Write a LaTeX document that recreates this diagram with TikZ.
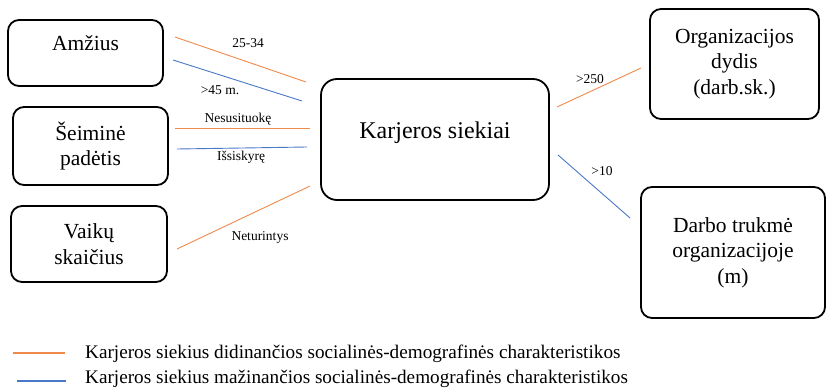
\documentclass[tikz,border=0pt]{standalone}
\usepackage{fontspec}
\setmainfont{Liberation Serif}
\usetikzlibrary{calc}
\definecolor{incr}{HTML}{F08A4B}
\definecolor{decr}{HTML}{4A78C8}
\tikzset{
  factor/.style={draw=black, line width=1.8pt, rounded corners=11pt, align=center,
    inner sep=0pt, font=\fontsize{21.5}{25.5}\selectfont},
  hub/.style={factor, rounded corners=16pt, font=\fontsize{24}{28}\selectfont},
  uplink/.style={draw=incr, line width=0.9pt},
  downlink/.style={draw=decr, line width=0.9pt},
  tag/.style={font=\fontsize{13.5}{15}\selectfont, inner sep=0pt},
  legendtext/.style={font=\fontsize{19.2}{22}\selectfont, anchor=west, inner sep=0pt}
}
\begin{document}
\begin{tikzpicture}[x=1pt, y=-1pt]
  \useasboundingbox (0,0) rectangle (827,388);

  % factor boxes
  \node[factor, minimum width=155pt, minimum height=66pt, text depth=19pt] (amz) at (85.5,53) {Amžius};
  \node[factor, minimum width=155pt, minimum height=78pt] (seim) at (90.5,146) {Šeiminė\\padėtis};
  \node[factor, minimum width=156pt, minimum height=76pt] (vaik) at (89,244) {Vaikų\\skaičius};
  \node[hub, minimum width=228pt, minimum height=121pt, text depth=18pt] (ks) at (435,139.5) {Karjeros siekiai};
  \node[factor, minimum width=169pt, minimum height=110pt] (org) at (734.5,64) {Organizacijos\\dydis\\(darb.sk.)};
  \node[factor, minimum width=184pt, minimum height=131pt] (darb) at (733,252.5) {Darbo trukmė\\organizacijoje\\(m)};

  % connector ends
  \coordinate (amzA) at (175,37);  \coordinate (ksA) at (306,82);
  \coordinate (amzB) at (173,60);  \coordinate (ksB) at (302,101);
  \coordinate (seimA) at (175,128); \coordinate (ksC) at (310,128);
  \coordinate (seimB) at (177,149); \coordinate (ksD) at (307,147);
  \coordinate (vaikA) at (177,249); \coordinate (ksE) at (310,186);
  \coordinate (ksF) at (557,107);  \coordinate (orgA) at (641,68);
  \coordinate (ksG) at (558,155);  \coordinate (darbA) at (630,218);

  % connectors
  \draw[uplink] (amzA) -- (ksA);
  \draw[downlink] (amzB) -- (ksB);
  \draw[uplink] (seimA) -- (ksC);
  \draw[downlink] (seimB) -- (ksD);
  \draw[uplink] (vaikA) -- (ksE);
  \draw[uplink] (ksF) -- (orgA);
  \draw[downlink] (ksG) -- (darbA);

  % connector labels
  \node[tag] (t1) at (248,43) {25-34};
  \node[tag] (t2) at (220,90) {>45 m.};
  \node[tag] (t3) at (238,119) {Nesusituokę};
  \node[tag] (t4) at (241,157) {Išsiskyrę};
  \node[tag] (t5) at (260,237) {Neturintys};
  \node[tag] (t6) at (590,79) {>250};
  \node[tag] (t7) at (602,171) {>10};

  % legend
  \coordinate (lgA1) at (13,353); \coordinate (lgA2) at (65,353);
  \coordinate (lgB1) at (17,381); \coordinate (lgB2) at (66,381);
  \draw[draw=incr, line width=1.3pt] (lgA1) -- (lgA2);
  \draw[draw=decr, line width=1.3pt] (lgB1) -- (lgB2);
  \node[legendtext] (lg1) at (85,354) {Karjeros siekius didinančios socialinės-demografinės charakteristikos};
  \node[legendtext] (lg2) at (85,379) {Karjeros siekius mažinančios socialinės-demografinės charakteristikos};
\end{tikzpicture}
\end{document}
